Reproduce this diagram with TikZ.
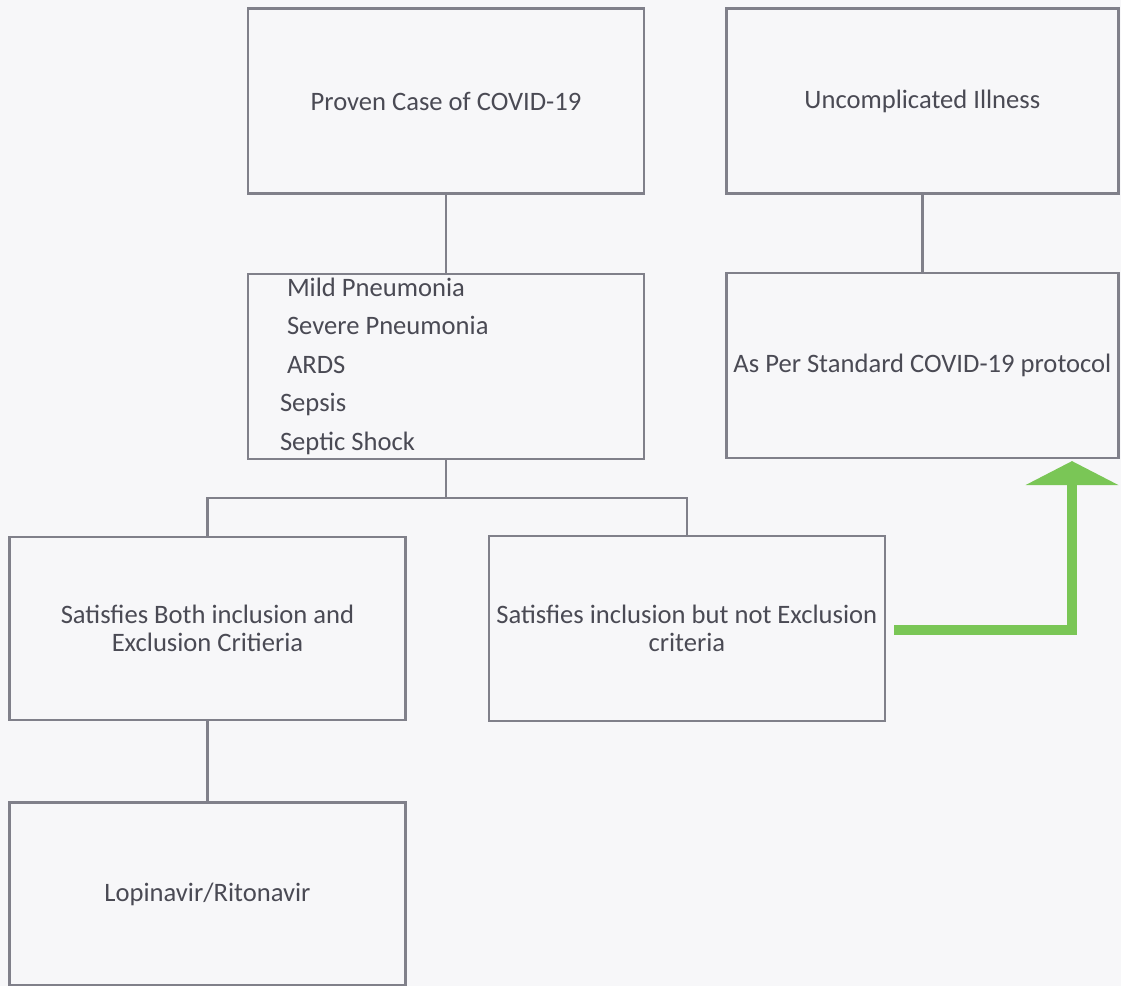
\documentclass[tikz,border=0pt]{standalone}
\usepackage{fontspec}
\setmainfont{Carlito}
\usetikzlibrary{arrows.meta, positioning}

\definecolor{boxgray}{RGB}{128,128,138}
\definecolor{textgray}{RGB}{74,74,84}
\definecolor{arrowgreen}{RGB}{122,198,86}
\definecolor{paper}{RGB}{247,247,249}

\begin{document}
\begin{tikzpicture}[x=0.5pt, y=-0.5pt,
      box/.style={draw=boxgray, line width=1.2pt, minimum width=198pt, minimum height=92.5pt, text=textgray, font=\fontsize{13.3}{14}\selectfont, align=center, inner sep=2pt},
      narrow_box/.style={box, minimum width=196pt},
      low_box/.style={box, minimum height=91.5pt},
      list_box/.style={box, align=flush left, text width=166pt, inner xsep=16pt},
      line/.style={draw=boxgray, line width=1.2pt},
      green_arrow/.style={draw=arrowgreen, line width=5pt, -{Triangle[width=46.5pt, length=12pt, line width=0pt]}}
    ]

      % Page background and frame
      \fill[paper] (0,0) rectangle (1121,986);
      \useasboundingbox (0,0) rectangle (1121,986);

      % Top row
      \node[box] (proven_case) at (446,101) {Proven Case of COVID-19};
      \node[narrow_box, right=40pt of proven_case] (uncomplicated) {Uncomplicated Illness};

      % Severity list and standard protocol
      \node[list_box, below=39pt of proven_case] (severity_list) {%
        \hspace*{3.5pt}Mild Pneumonia\\[5.25pt]
        \hspace*{3.5pt}Severe Pneumonia\\[5.25pt]
        \hspace*{3.5pt}ARDS\\[5.25pt]
        Sepsis\\[5.25pt]
        Septic Shock};
      \node[narrow_box, below=38.5pt of uncomplicated] (standard_protocol) {As Per Standard COVID-19 protocol};

      % Criteria boxes
      \node[low_box] (both_criteria) at (207.5,628.5) {Satisfies Both inclusion and\\Exclusion Critieria};
      \node[box, right=40.5pt of both_criteria] (inclusion_only) {Satisfies inclusion but not Exclusion\\criteria};

      % Treatment box
      \node[low_box, below=40pt of both_criteria] (lopinavir) {Lopinavir/Ritonavir};

      % Connectors
      \coordinate (split) at ([yshift=-19pt]severity_list.south);
      \draw[line] (proven_case.south) -- (severity_list.north);
      \draw[line] (uncomplicated.south) -- (standard_protocol.north);
      \draw[line] (severity_list.south) -- (split);
      \draw[line] (both_criteria.north) |- (split) -| (inclusion_only.north);
      \draw[line] (both_criteria.south) -- (lopinavir.north);

      % Green arrow back up to the protocol box
      \coordinate (bend) at (1072,630);
      \draw[green_arrow, shorten <=4pt, shorten >=1pt] (inclusion_only.east |- bend) -- (bend) -- (bend |- standard_protocol.south);

    \end{tikzpicture}
\end{document}
